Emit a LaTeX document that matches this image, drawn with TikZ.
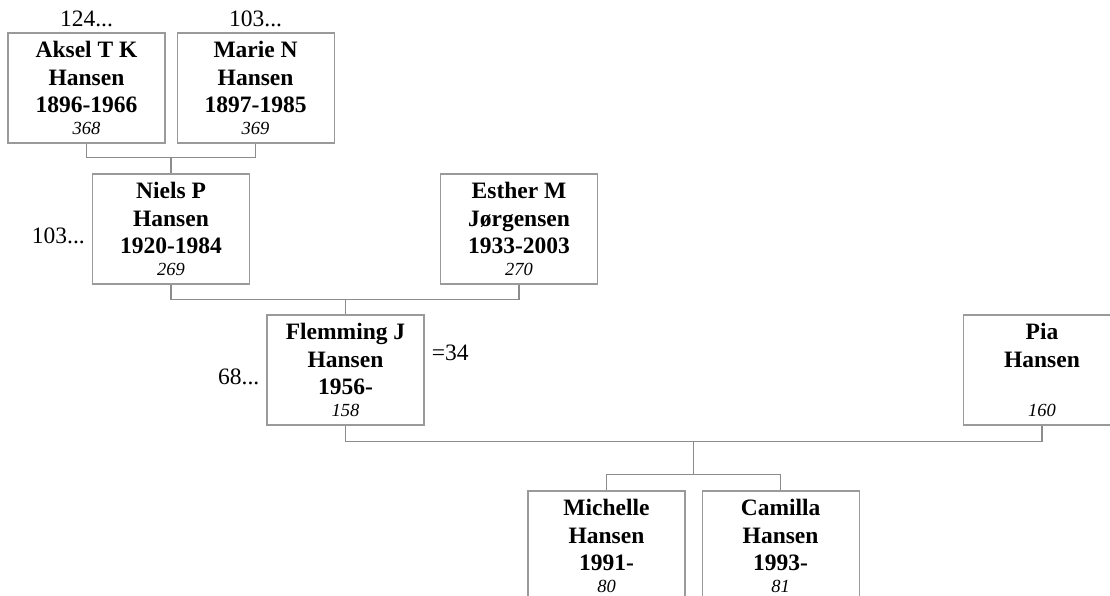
\documentclass[tikz,border=0pt]{standalone}
\usepackage{fontspec}
\setmainfont{Liberation Serif}
\usetikzlibrary{positioning,calc}
\definecolor{boxgray}{HTML}{9A9A9A}
\definecolor{linegray}{HTML}{8C8C8C}
\newcommand\idno[1]{{\fontsize{18.5}{22}\selectfont\mdseries\itshape #1}}

\begin{document}
\begin{tikzpicture}[
    x=1pt, y=-1pt,
    node distance=6pt and 11pt,
    person/.style={draw=boxgray, line width=1.1pt, align=center, minimum width=157pt, minimum height=110pt, inner sep=2pt, font=\fontsize{23.5}{27.5}\selectfont\bfseries},
    ref/.style={font=\fontsize{23.5}{26}\selectfont, inner sep=0pt},
    link/.style={draw=linegray, line width=1.1pt}
]
\clip (0,0) rectangle (1110,596);

% ---------- Grandparents ----------
\node[person] (aksel) at (86.5,88) {Aksel T K\\Hansen\\1896-1966\\[-6pt]\idno{368}};
\node[person, right=11pt of aksel] (marie) {Marie N\\Hansen\\1897-1985\\[-6pt]\idno{369}};
\node[ref, above=5pt of aksel] (akselref) {124...};
\node[ref, above=5pt of marie] (marieref) {103...};

% ---------- Parents ----------
\node[person] (niels) at (171,229) {Niels P\\Hansen\\1920-1984\\[-6pt]\idno{269}};
\node[person] (esther) at (519,229) {Esther M\\Jørgensen\\1933-2003\\[-6pt]\idno{270}};
\node[ref, left=7pt of niels, yshift=-7pt] (nielsref) {103...};

% ---------- Couple ----------
\node[person] (flemming) at (345.5,370) {Flemming J\\Hansen\\1956-\\[-6pt]\idno{158}};
\node[person] (pia) at (1042,370) {Pia\\Hansen\\\mbox{}\\[-6pt]\idno{160}};
\node[ref, left=7pt of flemming, yshift=-7pt] (flemmingref) {68...};
\node[ref, anchor=west] (marriage) at ($(flemming.north east)+(7,38)$) {=34};

% ---------- Children ----------
\node[person] (michelle) at (606.5,546) {Michelle\\Hansen\\1991-\\[-6pt]\idno{80}};
\node[person, right=16pt of michelle] (camilla) {Camilla\\Hansen\\1993-\\[-6pt]\idno{81}};

% ---------- Connectors ----------
\draw[link] (aksel.south) -- ++(0,14) coordinate (ak) -| (marie.south);
\draw[link] (niels.north) -- (niels.north |- ak);

\draw[link] (niels.south) -- ++(0,15) coordinate (ne) -| (esther.south);
\draw[link] (flemming.north) -- (flemming.north |- ne);

\draw[link] (flemming.south) -- ++(0,16) coordinate (fp) -| (pia.south);
\coordinate (kids) at ($(fp)!0.5!(pia.south |- fp)$);
\draw[link] (kids) -- ++(0,33) coordinate (kb);
\draw[link] (michelle.north) -- (michelle.north |- kb) -- (camilla.north |- kb) -- (camilla.north);

\end{tikzpicture}
\end{document}
